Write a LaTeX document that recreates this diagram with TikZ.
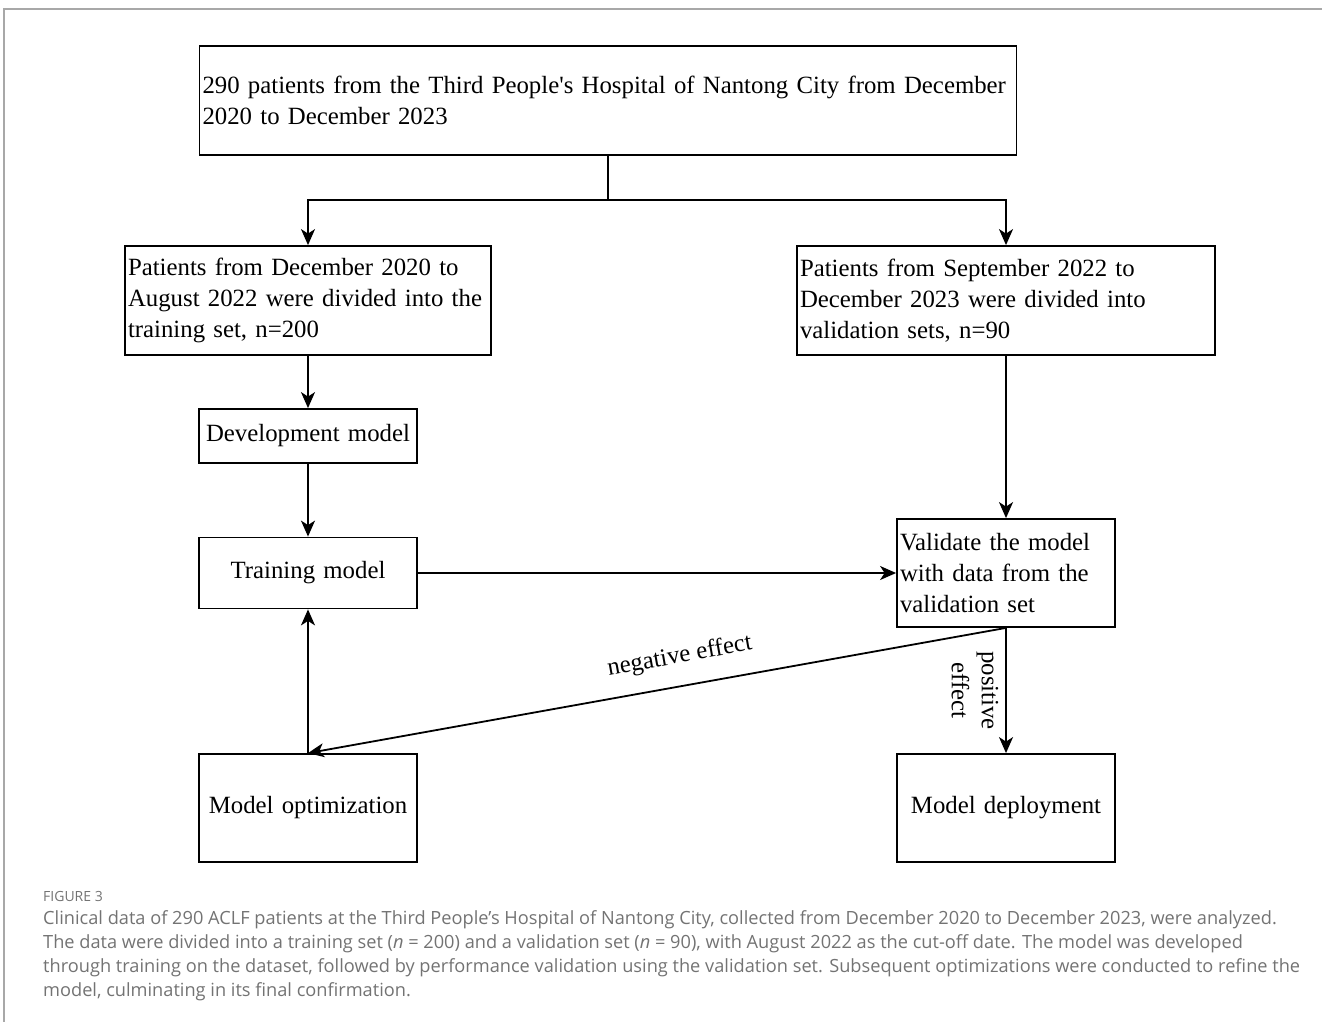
\documentclass[tikz,border=0pt]{standalone}
\usepackage{fontspec}
\newfontfamily\diagfont{Liberation Serif}
\newfontfamily\capfont{Open Sans}
\usetikzlibrary{arrows.meta}
\definecolor{capgray}{HTML}{737373}
\definecolor{rulegray}{HTML}{A8A8A8}

\begin{document}
\begin{tikzpicture}[x=1pt,y=-1pt,
    box/.style={draw,line width=1.8pt,inner xsep=3pt,inner ysep=0pt,
        font=\diagfont\fontsize{24.8}{31}\selectfont},
    arr/.style={line width=1.8pt,-{Stealth[length=16pt,width=14pt,inset=4.5pt]}},
    lbl/.style={font=\diagfont\fontsize{24.8}{30}\selectfont,inner sep=2pt}]%
    \useasboundingbox (0,0) rectangle (1322,1022);
    \draw[rulegray,line width=1.5pt] (4,1022)--(4,9)--(1322,9);
    \node[box,text width=811pt,minimum height=109pt,align=left] (patients) at (608,100.5)
        {290 patients from the Third People's Hospital of Nantong City from December\\2020 to December 2023};
    \node[box,text width=360pt,minimum height=109pt,align=left] (trainset) at (308,300.5)
        {Patients from December 2020 to\\August 2022 were divided into the\\training set, n=200};
    \node[box,text width=412pt,minimum height=109pt,align=left] (valset) at (1006,300.5)
        {Patients from September 2022 to\\December 2023 were divided into\\validation sets, n=90};
    \node[box,text width=212pt,minimum height=54pt,align=center] (devmodel) at (308,436) {Development model};
    \node[box,text width=212pt,minimum height=71pt,align=center] (trainmodel) at (308,573) {Training model};
    \node[box,text width=212pt,minimum height=108pt,align=left] (validate) at (1006,573)
        {Validate the model\\with data from the\\validation set};
    \node[box,text width=212pt,minimum height=108pt,align=center] (optimize) at (308,808) {Model optimization};
    \node[box,text width=212pt,minimum height=108pt,align=center] (deploy) at (1006,808) {Model deployment};
    \coordinate (split) at (608,200);
    \draw[line width=1.8pt] (patients.south)--(split);
    \draw[arr] (split)-|(trainset.north);
    \draw[arr] (split)-|(valset.north);
    \draw[arr] (trainset)--(devmodel);
    \draw[arr] (devmodel)--(trainmodel);
    \draw[arr] (valset)--(validate);
    \draw[arr] (trainmodel)--(validate);
    \draw[arr] (validate.south)--node[lbl,xshift=-31pt,rotate=-90,align=center] {positive\\effect} (deploy.north);
    \draw[arr] (validate.south)--node[lbl,pos=0.46,sloped,above=15pt] {negative effect} (optimize.north);
    \draw[arr] (optimize)--(trainmodel);
    \node[anchor=north west,inner sep=0pt,text=capgray,font=\capfont\fontsize{14}{16}\selectfont] (figlabel) at (43,891) {FIGURE 3};
    \node[anchor=north west,inner sep=0pt,text=capgray,align=left,font=\capfont\fontsize{18.2}{24}\selectfont] (caption) at (43,910)
        {Clinical data of 290 ACLF patients at the Third People’s Hospital of Nantong City, collected from December 2020 to December 2023, were analyzed.\\
        The data were divided into a training set (\textit{n} = 200) and a validation set (\textit{n} = 90), with August 2022 as the cut-off date. The model was developed\\
        through training on the dataset, followed by performance validation using the validation set. Subsequent optimizations were conducted to refine the\\
        model, culminating in its final confirmation.};
\end{tikzpicture}
\end{document}
